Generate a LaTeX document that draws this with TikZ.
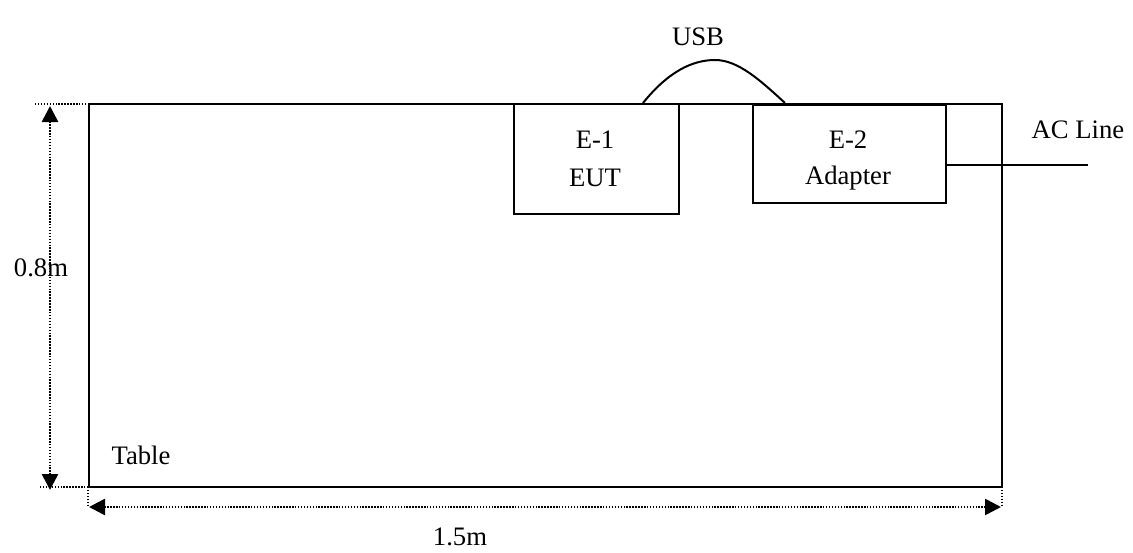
\documentclass[tikz,border=0pt]{standalone}
\usepackage{fontspec}
\setmainfont{Liberation Serif}
\usetikzlibrary{arrows.meta}
\begin{document}
\begin{tikzpicture}[x=0.75pt,y=-0.75pt,
  box/.style={draw=black,line width=1.5pt,inner sep=0pt,anchor=north west},
  lbl/.style={inner sep=0pt,font=\fontsize{20pt}{24pt}\selectfont},
  wire/.style={draw=black,line width=1.5pt},
  dimline/.style={draw=black,line width=2pt,dash pattern=on 1.1pt off 1.1pt},
  dimarrow/.style={dimline,{Triangle[length=12pt,width=12pt]}-{Triangle[length=12pt,width=12pt]}}]
\useasboundingbox (0,0) rectangle (1133,553);
% boxes
\node[box,minimum width=684.75pt,minimum height=287.25pt] (table) at (88,103) {};
\node[box,minimum width=123.75pt,minimum height=82.5pt] (E1) at (513,103) {};
\node[box,minimum width=144.75pt,minimum height=73.5pt] (E2) at (752,104) {};
% labels
\node[lbl] (e1a) at (595,140) {E-1};
\node[lbl] (e1b) at (595,178) {EUT};
\node[lbl] (e2a) at (848,140) {E-2};
\node[lbl] (e2b) at (848,178) {Adapter};
\node[lbl] (usb) at (698,37) {USB};
\node[lbl] (acl) at (1078,130) {AC Line};
\node[lbl] (tbl) at (141,455) {Table};
\node[lbl] (h) at (41,268) {0.8m};
\node[lbl] (w) at (460,537) {1.5m};
% USB cable
\coordinate (u1) at (643,103);
\coordinate (u2) at (785,103);
\draw[wire] (u1) .. controls (668,72) and (692,60) .. (715,60)
            .. controls (738,60) and (760,80) .. (u2);
% AC line
\coordinate (ac1) at (945,165);
\coordinate (ac2) at (1088,165);
\draw[wire] (ac1) -- (ac2);
% dimension extension lines
\coordinate (vt1) at (35,104); \coordinate (vt2) at (103,104);
\coordinate (vb1) at (40,487); \coordinate (vb2) at (110,487);
\draw[dimline] (vt1) -- (vt2);
\draw[dimline] (vb1) -- (vb2);
\coordinate (hl1) at (88,487); \coordinate (hl2) at (88,507);
\coordinate (hr1) at (1002,487); \coordinate (hr2) at (1002,507);
\draw[dimline] (hl1) -- (hl2);
\draw[dimline] (hr1) -- (hr2);
% dimension arrows
\coordinate (va) at (50,106); \coordinate (vb) at (50,490);
\draw[dimarrow] (va) -- (vb);
\coordinate (ha) at (89,507); \coordinate (hb) at (1001,507);
\draw[dimarrow] (ha) -- (hb);
\end{tikzpicture}
\end{document}
